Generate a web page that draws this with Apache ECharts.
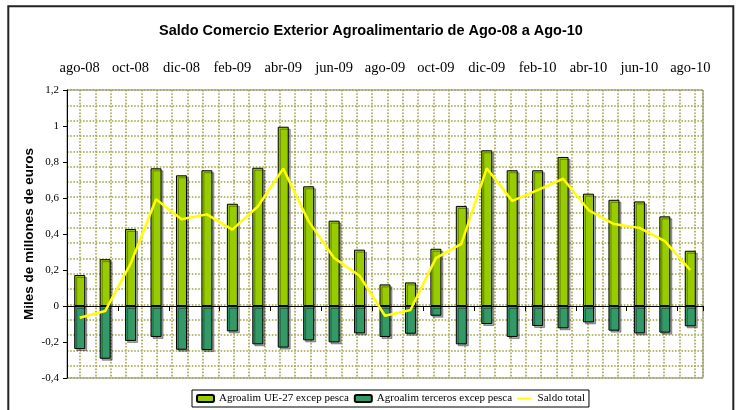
<!DOCTYPE html>
<html>
<head>
<meta charset="utf-8">
<script src="https://cdn.jsdelivr.net/npm/echarts@6/dist/echarts.min.js"></script>
<style>
  html, body { margin: 0; padding: 0; background: #fff; }
  #chart { width: 742px; height: 410px; }
</style>
</head>
<body>
<div id="chart"></div>
<script>
// meses ago-08 .. ago-10
const meses = ["ago-08","sep-08","oct-08","nov-08","dic-08","ene-09","feb-09","mar-09","abr-09","may-09","jun-09","jul-09",
  "ago-09","sep-09","oct-09","nov-09","dic-09","ene-10","feb-10","mar-10","abr-10","may-10","jun-10","jul-10","ago-10"];

// miles de millones de euros
const ue27 = [0.172, 0.26, 0.428, 0.765, 0.726, 0.754, 0.568, 0.768, 0.996, 0.665, 0.474, 0.313,
  0.12, 0.131, 0.318, 0.556, 0.865, 0.754, 0.754, 0.828, 0.624, 0.59, 0.581, 0.498, 0.307];
const terceros = [-0.239, -0.293, -0.194, -0.172, -0.243, -0.245, -0.141, -0.213, -0.231, -0.191, -0.202, -0.152,
  -0.172, -0.154, -0.054, -0.213, -0.1, -0.172, -0.111, -0.124, -0.091, -0.137, -0.152, -0.148, -0.113];
const saldo = [-0.065, -0.028, 0.235, 0.593, 0.482, 0.509, 0.424, 0.553, 0.763, 0.47, 0.267, 0.168,
  -0.054, -0.022, 0.266, 0.345, 0.765, 0.584, 0.644, 0.707, 0.533, 0.455, 0.434, 0.36, 0.2];

const serif = "'Liberation Serif', 'Times New Roman', serif";
const sans = "'Liberation Sans', Arial, sans-serif";
const dots = { color: "#a3a348", width: 1.6, type: [1.6, 1.6] };

const chart = echarts.init(document.getElementById("chart"));
chart.setOption({
  animation: false,
  title: {
    text: "Saldo Comercio Exterior Agroalimentario de Ago-08 a Ago-10",
    left: "center", top: 18,
    textStyle: { fontFamily: sans, fontSize: 14.5, fontWeight: "bold", color: "#000" }
  },
  legend: {
    left: 192, top: 390,
    padding: [3, 4], itemGap: 5, itemWidth: 17, itemHeight: 7,
    borderColor: "#000", borderWidth: 1, borderRadius: 0,
    textStyle: { fontFamily: serif, fontSize: 11, color: "#000" },
    data: [
      "Agroalim UE-27 excep pesca",
      "Agroalim terceros excep pesca",
      // solo la linea, sin simbolo
      { name: "Saldo total", icon: "path://M0,0 M20,10 M0,3.8 L20,3.8 L20,6.6 L0,6.6 Z" }
    ]
  },
  graphic: [{
    type: "rect", silent: true,
    shape: { x: 8.3, y: 6.2, width: 725, height: 430 },
    style: { fill: null, stroke: "#222", lineWidth: 2 }
  }],
  grid: [
    { left: 67, top: 90, right: 39, bottom: 32, show: true, borderColor: "#808080", borderWidth: 1 },
    { left: 80, top: 90, right: 39, bottom: 32 }
  ],
  xAxis: [
    { // linea de cero con marcas
      type: "category", gridIndex: 0, data: meses, position: "bottom", z: 3,
      axisLine: { onZero: true, lineStyle: { color: "#000", width: 1 } },
      axisTick: { show: true, interval: 1, length: 5, lineStyle: { color: "#000" } },
      axisLabel: { show: false },
      splitLine: { show: false }
    },
    { // etiquetas arriba
      type: "category", gridIndex: 0, data: meses, position: "top",
      axisLine: { show: false }, axisTick: { show: false },
      axisLabel: { interval: 1, margin: 14, fontFamily: serif, fontSize: 14.5, color: "#000" },
      splitLine: { show: false }
    },
    { // trama vertical de puntos
      type: "value", gridIndex: 1, min: 0, max: 40.53, interval: 1,
      axisLine: { show: false }, axisTick: { show: false }, axisLabel: { show: false },
      splitLine: { show: true, lineStyle: dots }
    }
  ],
  yAxis: [
    {
      type: "value", gridIndex: 0, min: -0.4, max: 1.2, interval: 0.2,
      name: "Miles de millones de euros", nameLocation: "middle", nameGap: 31, nameMoveOverlap: false,
      nameTextStyle: { fontFamily: sans, fontSize: 13.5, fontWeight: "bold", color: "#000" },
      axisLine: { show: true, lineStyle: { color: "#000" } },
      axisTick: { show: true, length: 4, lineStyle: { color: "#000" } },
      axisLabel: {
        margin: 8, fontFamily: serif, fontSize: 11, color: "#000",
        formatter: v => String(Math.round(v * 10) / 10).replace(".", ",")
      },
      splitLine: { show: false }
    },
    { // trama horizontal de puntos
      type: "value", gridIndex: 0, position: "right", inverse: true, min: 0, max: 18.8, interval: 1,
      axisLine: { show: false }, axisTick: { show: false }, axisLabel: { show: false },
      splitLine: { show: true, lineStyle: dots }
    },
    {
      type: "value", gridIndex: 1, show: false, splitLine: { show: false }
    }
  ],
  series: [
    {
      name: "Agroalim UE-27 excep pesca", type: "bar", xAxisIndex: 0, yAxisIndex: 0,
      data: ue27, barWidth: 11, barGap: "-100%",
      itemStyle: { color: "#99CC00", borderColor: "#000", borderWidth: 1,
        shadowColor: "rgba(0,0,0,0.35)", shadowOffsetX: 2, shadowOffsetY: 2, shadowBlur: 0 }
    },
    {
      name: "Agroalim terceros excep pesca", type: "bar", xAxisIndex: 0, yAxisIndex: 0,
      data: terceros, barWidth: 11, barGap: "-100%",
      itemStyle: { color: "#339966", borderColor: "#000", borderWidth: 1,
        shadowColor: "rgba(0,0,0,0.35)", shadowOffsetX: 2, shadowOffsetY: 2, shadowBlur: 0 }
    },
    {
      name: "Saldo total", type: "line", xAxisIndex: 0, yAxisIndex: 0,
      data: saldo, symbol: "none", z: 4,
      lineStyle: { color: "#FFFF00", width: 2.5 },
      itemStyle: { color: "#FFFF00" }
    }
  ]
});
</script>
</body>
</html>
